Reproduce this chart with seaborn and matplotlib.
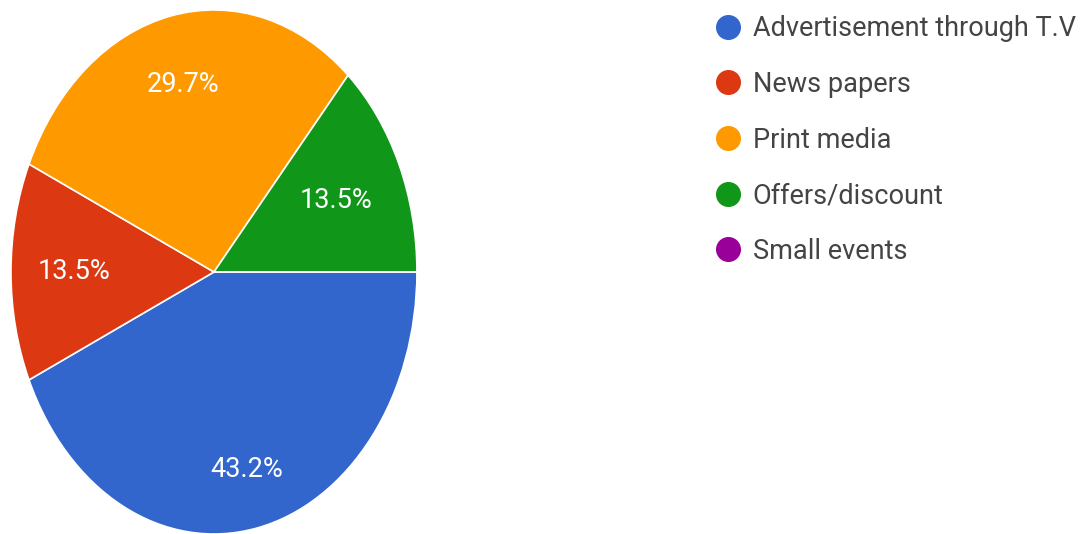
import matplotlib
matplotlib.use("Agg")
import numpy as np
import matplotlib.pyplot as plt
from matplotlib.lines import Line2D
import seaborn as sns

# Survey responses (37 respondents)
categories = ["Advertisement through T.V", "News papers", "Print media",
              "Offers/discount", "Small events"]
counts = [16, 5, 11, 5, 0]
colors = ["#3366cc", "#dc3912", "#ff9900", "#109618", "#990099"]

sns.set_theme(style="white")
plt.rcParams["font.family"] = ["Roboto", "DejaVu Sans"]

palette = sns.color_palette(colors)

fig = plt.figure(figsize=(10.84, 5.34), dpi=100)
fig.patch.set_facecolor("white")

ax = fig.add_axes([0, 0, 0.45, 1])
wedges, texts, autotexts = ax.pie(
    counts,
    colors=palette,
    startangle=0,
    counterclock=False,
    autopct=lambda p: f"{p:.1f}%" if p > 0 else "",
    pctdistance=0.72,
    wedgeprops=dict(edgecolor="white", linewidth=1.2),
    textprops=dict(color="white", fontsize=19.5),
)

# percentage labels sit a little closer / further per slice
label_radius = [0.77, 0.69, 0.73, 0.66, 0.7]
for w, t, r in zip(wedges, autotexts, label_radius):
    mid = np.deg2rad((w.theta1 + w.theta2) / 2)
    t.set_position((r * np.cos(mid), r * np.sin(mid)))

ax.set_aspect("auto")
ax.set_xlim(-1.054, 1.349)
ax.set_ylim(-1.0, 1.038)
ax.axis("off")

handles = [Line2D([0], [0], marker="o", linestyle="", markersize=17,
                  markerfacecolor=c, markeredgecolor=c) for c in palette]
fig.legend(handles, categories, loc="upper left",
           bbox_to_anchor=(0.647, 0.992), frameon=False,
           fontsize=19.5, labelcolor="#444444",
           labelspacing=1.06, handletextpad=0.3, handlelength=1.2,
           borderaxespad=0)

fig.savefig("out.png", dpi=100, facecolor="white")
